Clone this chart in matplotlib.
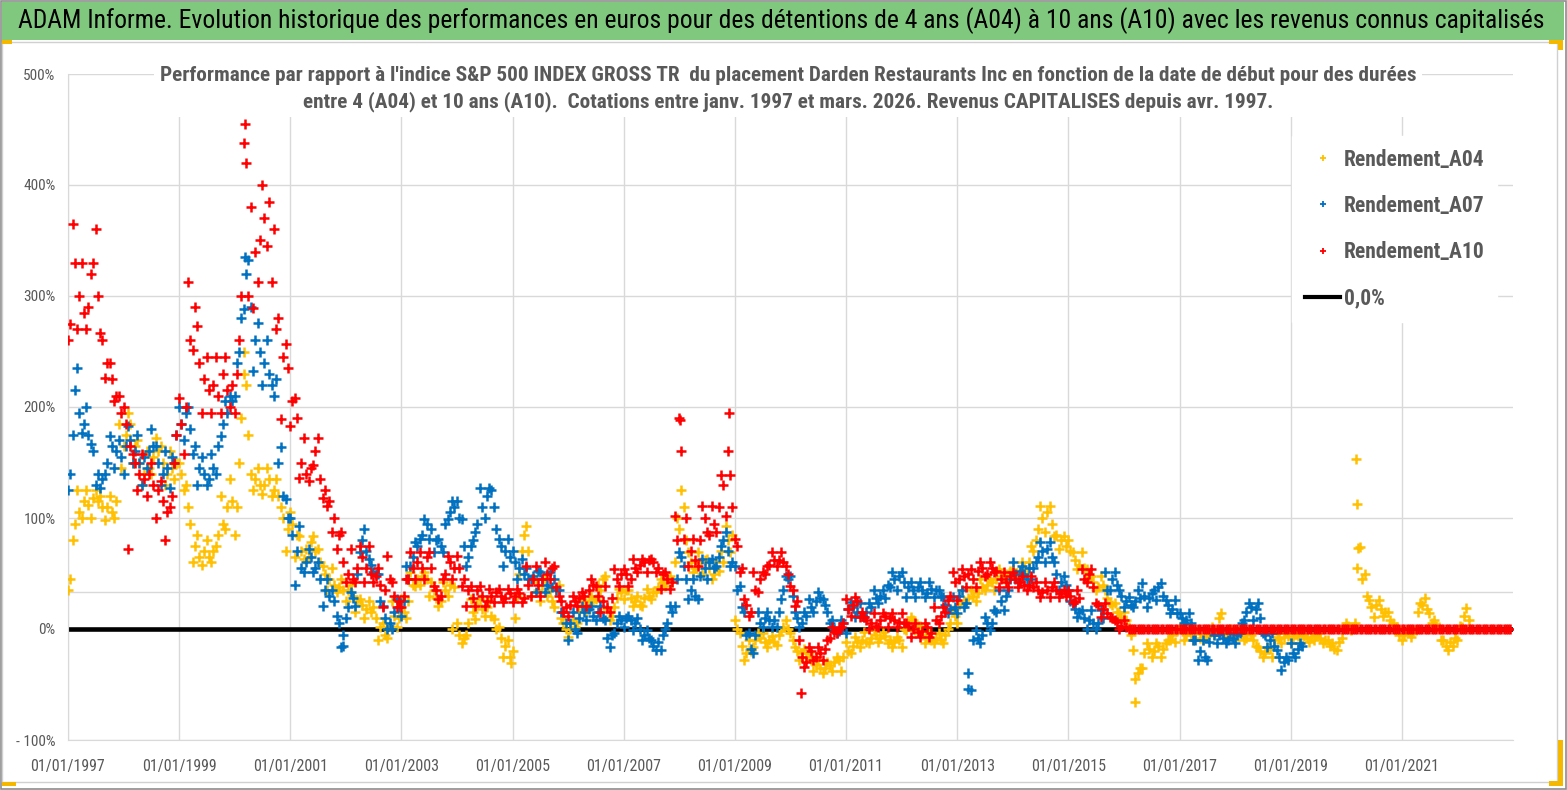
import numpy as np
import pandas as pd
import matplotlib
matplotlib.use("Agg")
import matplotlib.pyplot as plt
from matplotlib import font_manager as fm
from matplotlib.patches import Rectangle
from matplotlib.lines import Line2D

# ---------------- data (values in %) ----------------
# mid-month readings, one row per year starting 1997
A04_rows = [
    [45, 95, 105, 115, 112, 118, 115, 110, 110, 105, 115, 145],   # 1997
    [175, 185, 165, 150, 140, 145, 155, 160, 150, 140, 145, 150], # 1998
    [140, 130, 95, 75, 65, 70, 65, 70, 85, 95, 110, 115],         # 1999
    [110, 190, 220, 140, 135, 130, 130, 135, 125, 120, 100, 90],  # 2000
    [95, 85, 70, 72, 78, 70, 60, 50, 45, 40, 38, 35],             # 2001
    [35, 30, 25, 22, 18, 15, 10, 2, -5, 3, 12, 10],               # 2002
    [15, 25, 40, 45, 48, 45, 42, 28, 25, 35, 40, 38],             # 2003
    [-5, -8, 5, 15, 22, 18, 20, 12, 0, -8, -15, -25],             # 2004
    [10, 50, 85, 70, 45, 35, 40, 30, 25, 35, 10, 0],              # 2005
    [0, 2, 15, 22, 25, 25, 40, 45, 18, 12, 28, 33],               # 2006
    [35, 28, 25, 22, 28, 30, 33, 38, 42, 45, 42, 100],            # 2007
    [125, 80, 60, 55, 60, 62, 55, 50, 52, 60, 80, 85],            # 2008
    [0, -15, -22, -20, -10, -8, -12, -10, -12, -5, 2, 0],         # 2009
    [-10, -20, -22, -25, -28, -32, -35, -35, -32, -30, -28, -25], # 2010
    [-20, -15, -12, -10, -12, -8, -5, -8, -6, -10, -12, -10],     # 2011
    [0, 5, 8, 3, -5, -8, -10, -8, -10, -5, 5, 12],                # 2012
    [22, 25, 28, 30, 32, 38, 40, 42, 45, 48, 50, 52],             # 2013
    [50, 52, 55, 60, 70, 90, 100, 105, 95, 85, 80, 75],           # 2014
    [70, 62, 58, 55, 48, 42, 38, 40, 28, 22, 15, 10],             # 2015
    [8, -5, -45, -35, -22, -18, -20, -15, -18, -10, -5, -2],      # 2016
    [0, -5, -5, -3, -8, -5, -2, -5, 10, -3, -5, -2],              # 2017
    [-3, -5, -8, -5, -15, -20, -22, -18, -10, -8, -7, -6],        # 2018
    [-8, -6, -5, -8, -7, -5, -8, -10, -15, -18, -12, 2],          # 2019
    [3, 2, 55, 45, 30, 20, 22, 18, 15, 8, 0, -5],                 # 2020
    [-5, -3, -2, 15, 22, 18, 5, 3, -10, -15, -12, -8],            # 2021
    [3, 12, 8],                                                   # 2022
]
# start-of-month readings (other side of the scatter band)
A04_rows_b = [
    [35, 80, 125, 100, 125, 100, 125, 120, 98, 120, 100, 185],    # 1997
    [165, 195, 150, 170, 130, 160, 140, 172, 165, 130, 160, 135], # 1998
    [150, 125, 110, 60, 85, 58, 80, 60, 75, 120, 90, 135],        # 1999
    [85, 150, 250, 175, 125, 145, 122, 145, 120, 135, 110, 70],   # 2000
    [105, 65, 84, 63, 65, 84, 72, 57, 35, 55, 33, 45],            # 2001
    [25, 40, 15, 27, 10, 25, 20, -10, 5, -8, 25, 2],              # 2002
    [27, 10, 51, 39, 40, 51, 30, 35, 21, 42, 30, 0],              # 2003
    [5, -13, -5, 27, 9, 27, 12, 25, 9, 2, -25, -10],              # 2004
    [-20, 30, 70, 93, 30, 45, 25, 45, 35, 20, 40, 5],             # 2005
    [-7, 8, 5, 27, 15, 30, 27, 35, 48, 8, 20, 36],                # 2006
    [27, 35, 21, 30, 21, 36, 27, 33, 45, 39, 48, 60],             # 2007
    [90, 110, 69, 51, 69, 50, 63, 45, 60, 70, 93, 69],            # 2008
    [8, -4, -28, -10, -16, -4, -4, -16, -6, -14, -2, 8],          # 2009
    [-4, -16, -28, -18, -22, -38, -28, -40, -30, -38, -25, -38],  # 2010
    [-12, -22, -7, -16, -3, -13, -1, -12, -3, -13, -16, -7],      # 2011
    [-16, -1, 11, -1, 3, -13, -4, -13, -4, -13, 0, 17],           # 2012
    [5, 35, 23, 35, 25, 45, 35, 45, 35, 54, 45, 45],              # 2013
    [54, 45, 60, 50, 75, 80, 111, 87, 111, 84, 72, 84],           # 2014
    [80, 69, 54, 69, 54, 48, 35, 48, 35, 23, 23, 15],             # 2015
    [15, 2, -19, -40, -35, -13, -25, -13, -25, -13, -10, -12],    # 2016
    [2, -10, 0, -10, -1, -10, -6, 2, -2, 14, -8, 0],              # 2017
    [-10, -1, -10, -1, -10, -16, -25, -16, -25, -4, -13, -4],     # 2018
    [-13, -4, -13, -6, -12, -10, -4, -13, -10, -13, -19, -8],     # 2019
    [5, -1, 5, 74, 50, 26, 11, 26, 12, 15, 5, 2],                 # 2020
    [-10, -1, -7, -1, 23, 28, 14, 8, 2, -10, -19, -15],           # 2021
    [-10, 2, 19],                                                 # 2022
]
A07_rows = [
    [140, 215, 195, 185, 175, 160, 140, 135, 150, 165, 160, 155], # 1997
    [165, 170, 160, 150, 155, 160, 165, 150, 140, 145, 155, 175], # 1998
    [185, 195, 180, 165, 145, 140, 135, 145, 165, 185, 195, 205], # 1999
    [240, 280, 320, 290, 260, 250, 240, 230, 210, 150, 120, 100], # 2000
    [85, 70, 55, 60, 65, 55, 45, 35, 30, 25, 5, -5],              # 2001
    [20, 28, 50, 80, 70, 58, 50, 25, 10, 5, 15, 20],              # 2002
    [25, 45, 65, 75, 85, 95, 90, 80, 75, 95, 105, 110],           # 2003
    [100, 75, 65, 80, 95, 110, 120, 125, 90, 75, 70, 65],         # 2004
    [60, 55, 50, 45, 48, 52, 45, 40, 38, 35, 15, 5],              # 2005
    [5, 0, 10, 15, 18, 12, 15, 10, -8, -5, 5, 8],                 # 2006
    [10, 8, 5, 0, -5, -8, -15, -12, -5, 5, 15, 45],               # 2007
    [65, 45, 35, 30, 48, 55, 60, 55, 65, 80, 70, 60],             # 2008
    [35, 20, -5, -18, -5, 5, 10, 8, 8, 15, 35, 45],               # 2009
    [30, 10, 5, 12, 20, 25, 28, 22, 5, 0, -2, 5],                 # 2010
    [18, 20, 15, 12, 15, 20, 28, 30, 28, 38, 45, 48],             # 2011
    [42, 38, 35, 38, 35, 32, 36, 35, 30, 22, 18, 20],             # 2012
    [30, 20, -40, -10, -8, -5, 5, 5, 15, 25, 30, 45],             # 2013
    [50, 52, 50, 55, 55, 65, 70, 72, 65, 50, 42, 40],             # 2014
    [25, 18, 15, 10, 8, 5, 5, 10, 35, 45, 40, 30],                # 2015
    [25, 22, 25, 28, 30, 28, 35, 38, 30, 22, 18, 14],             # 2016
    [10, 8, 5, -10, -20, -25, -12, -5, -5, -8, -10, -8],          # 2017
    [-5, 5, 15, 20, 18, 10, -5, -10, -15, -25, -30, -28],         # 2018
    [-22, -18, -15],                                              # 2019
]
A07_rows_b = [
    [125, 175, 235, 177, 200, 167, 130, 127, 140, 174, 145, 170], # 1997
    [140, 183, 150, 175, 130, 145, 180, 165, 130, 160, 127, 150], # 1998
    [200, 170, 200, 158, 130, 155, 130, 158, 140, 174, 205, 210], # 1999
    [210, 250, 288, 332, 232, 276, 220, 260, 220, 225, 164, 117], # 2000
    [100, 40, 93, 51, 72, 51, 60, 21, 45, 35, 12, -16],           # 2001
    [10, 33, 21, 69, 90, 63, 51, 50, 21, 0, 0, 27],               # 2002
    [12, 57, 57, 78, 81, 99, 81, 69, 81, 69, 99, 115],            # 2003
    [115, 99, 57, 75, 87, 127, 100, 127, 110, 81, 57, 81],        # 2004
    [70, 45, 63, 55, 45, 33, 51, 33, 51, 45, 35, 15],             # 2005
    [-10, 15, -4, 21, 8, 21, 8, 21, 8, -16, -4, 12],              # 2006
    [2, 12, -1, 10, -10, -1, -10, -19, -19, 0, 21, 21],           # 2007
    [69, 57, 27, 45, 27, 63, 45, 63, 57, 75, 87, 57],             # 2008
    [57, 39, 15, -4, -22, 15, 2, 15, 2, 2, 27, 48],               # 2009
    [48, 15, 2, 15, 27, 15, 33, 27, 15, 8, -4, 8],                # 2010
    [-4, 24, 11, 23, 11, 23, 35, 23, 35, 40, 51, 35],             # 2011
    [51, 29, 42, 29, 42, 29, 42, 29, 35, 29, 14, 29],             # 2012
    [14, 35, 23, -55, -1, -13, 11, -1, 17, 35, 17, 35],           # 2013
    [60, 42, 57, 45, 45, 60, 78, 60, 78, 60, 35, 48],             # 2014
    [35, 23, 11, 17, 0, 17, 0, 17, 51, 35, 51, 35],               # 2015
    [20, 29, 20, 35, 41, 20, 32, 26, 41, 26, 14, 26],             # 2016
    [14, 5, 14, -10, -28, -10, -28, -1, -13, -1, -13, -4],        # 2017
    [-13, -4, 8, 23, 8, 23, -4, -16, -4, -19, -37, -25],          # 2018
    [-13, -25, -13],                                              # 2019
]
A10_rows = [
    [275, 330, 300, 285, 290, 330, 300, 260, 240, 225, 210, 195], # 1997
    [185, 165, 150, 140, 135, 140, 130, 125, 115, 105, 120, 175], # 1998
    [185, 200, 260, 290, 240, 225, 215, 220, 210, 230, 215, 220], # 1999
    [230, 300, 420, 380, 340, 350, 370, 385, 360, 280, 245, 235], # 2000
    [205, 190, 150, 140, 145, 160, 135, 125, 115, 100, 85, 60],   # 2001
    [50, 45, 55, 65, 55, 50, 48, 40, 35, 45, 30, 25],             # 2002
    [30, 45, 55, 60, 55, 65, 55, 35, 30, 50, 60, 55],             # 2003
    [55, 45, 35, 28, 35, 30, 25, 30, 33, 30, 28, 32],             # 2004
    [30, 32, 28, 40, 45, 40, 45, 50, 55, 38, 25, 20],             # 2005
    [22, 25, 28, 30, 35, 40, 30, 25, 20, 28, 45, 50],             # 2006
    [50, 45, 55, 58, 60, 62, 60, 55, 50, 45, 42, 80],             # 2007
    [160, 100, 70, 62, 80, 100, 85, 95, 110, 130, 160, 110],      # 2008
    [75, 55, 22, 15, 35, 45, 50, 58, 62, 62, 60, 50],             # 2009
    [35, 25, -25, -30, -20, -25, -22, -18, -8, -3, 0, 5],         # 2010
    [18, 22, 25, 15, 8, 5, 3, 8, 12, 10, 8, 6],                   # 2011
    [5, 3, 0, -3, -2, 2, -4, 8, 12, 15, 30, 42],                  # 2012
    [45, 48, 50, 45, 52, 55, 50, 55, 52, 45, 42, 48],             # 2013
    [45, 42, 40, 40, 38, 35, 33, 35, 38, 35, 32, 30],             # 2014
    [30, 25, 28, 45, 50, 38, 22, 18, 14, 10, 6, 3],               # 2015
    [2, 0, 0, 0, 0, 0, 0, 0, 0, 0, 0, 0],                         # 2016
    [0, 0, 0, 0, 0, 0, 0, 0, 0, 0, 0, 0],                         # 2017
    [0, 0, 0, 0, 0, 0, 0, 0, 0, 0, 0, 0],                         # 2018
    [0, 0, 0, 0, 0, 0, 0, 0, 0, 0, 0, 0],                         # 2019
    [0, 0, 0, 0, 0, 0, 0, 0, 0, 0, 0, 0],                         # 2020
    [0, 0, 0, 0, 0, 0, 0, 0, 0, 0, 0, 0],                         # 2021
    [0, 0, 0, 0, 0, 0, 0, 0, 0, 0, 0, 0],                         # 2022
]
A10_rows_b = [
    [260, 365, 270, 330, 270, 320, 360, 267, 226, 240, 205, 210], # 1997
    [200, 72, 158, 125, 158, 120, 150, 100, 133, 80, 110, 150],   # 1998
    [208, 158, 313, 251, 273, 195, 245, 195, 245, 195, 245, 200], # 1999
    [195, 260, 438, 300, 289, 313, 400, 345, 313, 270, 189, 257], # 2000
    [183, 208, 136, 172, 133, 148, 172, 118, 111, 87, 72, 87],    # 2001
    [42, 72, 42, 75, 42, 75, 42, 55, 20, 66, 42, 20],             # 2002
    [20, 45, 69, 45, 69, 45, 69, 39, 27, 45, 66, 45],             # 2003
    [66, 39, 21, 39, 21, 39, 21, 36, 24, 36, 24, 36],             # 2004
    [24, 36, 24, 57, 30, 57, 30, 60, 45, 57, 30, 15],             # 2005
    [12, 30, 21, 33, 21, 45, 39, 15, 39, 15, 54, 39],             # 2006
    [54, 39, 63, 51, 63, 51, 63, 51, 36, 51, 36, 102],            # 2007
    [190, 81, 57, 81, 57, 111, 87, 111, 87, 139, 102, 139],       # 2008
    [81, 51, 27, 12, 51, 33, 51, 57, 69, 57, 69, 57],             # 2009
    [39, 21, -10, -34, -16, -28, -16, -28, -10, 2, -4, 2],        # 2010
    [27, 12, 29, 11, 11, 0, 14, 2, 14, 2, 14, 2],                 # 2011
    [14, 5, -7, 5, -7, 5, -7, 20, 5, 20, 26, 51],                 # 2012
    [26, 54, 38, 54, 38, 60, 48, 60, 51, 38, 51, 38],             # 2013
    [51, 38, 48, 35, 48, 42, 29, 42, 29, 42, 29, 35],             # 2014
    [35, 23, 35, 54, 42, 54, 23, 11, 23, 11, 8, 0],               # 2015
    [8, 0, 0, 0, 0, 0, 0, 0, 0, 0, 0, 0],                         # 2016
    [0, 0, 0, 0, 0, 0, 0, 0, 0, 0, 0, 0],                         # 2017
    [0, 0, 0, 0, 0, 0, 0, 0, 0, 0, 0, 0],                         # 2018
    [0, 0, 0, 0, 0, 0, 0, 0, 0, 0, 0, 0],                         # 2019
    [0, 0, 0, 0, 0, 0, 0, 0, 0, 0, 0, 0],                         # 2020
    [0, 0, 0, 0, 0, 0, 0, 0, 0, 0, 0, 0],                         # 2021
    [0, 0, 0, 0, 0, 0, 0, 0, 0, 0, 0, 0],                         # 2022
]
# isolated points (spikes)
A04_extra_dates = ["2000-03-05", "2004-12-20", "2016-03-15", "2020-03-06", "2020-03-12", "2020-03-18"]
A04_extra_vals = [230, -31, -66, 153, 113, 73]
A07_extra_dates = ["2000-03-08", "2001-12-10", "2013-03-12"]
A07_extra_vals = [335, -15, -54]
A10_extra_dates = ["2000-03-08", "2008-01-08", "2008-11-25", "2010-03-10"]
A10_extra_vals = [455, 188, 195, -58]

series_labels = ["Rendement_A04", "Rendement_A07", "Rendement_A10"]
zero_label = "0,0%"
y_ticks = [-100, 0, 100, 200, 300, 400, 500]
y_tick_labels = ["- 100%", "0%", "100%", "200%", "300%", "400%", "500%"]
x_tick_years = list(range(1997, 2022, 2))

title = ("ADAM Informe. Evolution historique des performances en euros pour des détentions "
         "de 4 ans (A04) à 10 ans (A10) avec les revenus connus capitalisés")
subtitle = ("Performance par rapport à l'indice S&P 500 INDEX GROSS TR  du placement Darden Restaurants Inc "
            "en fonction de la date de début pour des durées\n"
            "entre 4 (A04) et 10 ans (A10).  Cotations entre janv. 1997 et mars. 2026. "
            "Revenus CAPITALISES depuis avr. 1997.")

# ---------------- styling ----------------
C04, C07, C10 = "#FFC000", "#0070C0", "#FF0000"
GRID = "#D9D9D9"
TXT = "#595959"

names = {f.name for f in fm.fontManager.ttflist}
COND = "DejaVu Sans"
for cand in ["Liberation Sans Narrow", "Roboto Condensed", "Open Sans Condensed", "Liberation Sans", "Noto Sans"]:
    if cand in names:
        COND = cand
        break

W, H = 1567, 790
fig = plt.figure(figsize=(W / 100, H / 100), dpi=100)
fig.patch.set_facecolor("white")


def px_rect(x0, y0, x1, y1, **kw):
    """rectangle given in pixel coords from top-left"""
    r = Rectangle((x0 / W, 1 - y1 / H), (x1 - x0) / W, (y1 - y0) / H,
                  transform=fig.transFigure, **kw)
    fig.patches.append(r)
    return r


# frame decorations
px_rect(0.5, 0.5, W - 1.5, H - 1.5, fill=False, edgecolor="#8C8C8C", lw=1.2, zorder=-5)
px_rect(2, 42, 1557, 782, fill=False, edgecolor="#D0D0D0", lw=1.0, zorder=-5)
px_rect(2, 2, 1564, 40, facecolor="#80C87E", edgecolor="none", zorder=-4)
for (a, b, c, d) in [(2, 40, 12, 44), (2, 782, 16, 786), (1549, 40, 1563, 44), (1558, 40, 1563, 50),
                     (1558, 740, 1563, 786), (1549, 781, 1563, 786)]:
    px_rect(a, b, c, d, facecolor="#F5B800", edgecolor="none", zorder=-3)

ax = fig.add_axes([68 / W, 1 - 740 / H, (1513 - 68) / W, (740 - 74) / H])
ax.set_facecolor("white")


def monthly(rows, day_offset):
    vals = [v for r in rows for v in r]
    d = pd.date_range("1997-01-01", periods=len(vals), freq="MS") + pd.Timedelta(days=day_offset)
    return d, np.array(vals, dtype=float)


ax.axhline(0, color="black", lw=3.3, zorder=2)
ax.axhline(33, color=GRID, lw=1.0, zorder=0.5)

MS, MEW = 7, 1.8
for rows, rows_b, xd, xv, col in [(A04_rows, A04_rows_b, A04_extra_dates, A04_extra_vals, C04),
                                  (A07_rows, A07_rows_b, A07_extra_dates, A07_extra_vals, C07),
                                  (A10_rows, A10_rows_b, A10_extra_dates, A10_extra_vals, C10)]:
    d, v = monthly(rows, 14)
    db, vb = monthly(rows_b, 0)
    ax.plot(db, vb, ls="none", marker="+", ms=MS, mew=MEW, color=col, zorder=3)
    ax.plot(d, v, ls="none", marker="+", ms=MS, mew=MEW, color=col, zorder=3)
    ax.plot(pd.to_datetime(xd), xv, ls="none", marker="+", ms=MS, mew=MEW, color=col, zorder=3)

ax.set_xlim(pd.Timestamp("1997-01-01"), pd.Timestamp("2023-01-01"))
ax.set_ylim(-100, 500)
ax.set_yticks(y_ticks)
ax.set_yticklabels(y_tick_labels)
xt = [pd.Timestamp(f"{y}-01-01") for y in x_tick_years]
ax.set_xticks(xt)
ax.set_xticklabels([t.strftime("%d/%m/%Y") for t in xt])
ax.set_axisbelow(True)
ax.grid(True, color=GRID, lw=1.0)
for s in ["top", "right"]:
    ax.spines[s].set_visible(False)
for s in ["left", "bottom"]:
    ax.spines[s].set_color(GRID)
ax.tick_params(length=0, colors=TXT)
ax.tick_params(axis="x", labelsize=11.5, pad=14)
ax.tick_params(axis="y", labelsize=11, pad=9)
for lab in ax.get_xticklabels() + ax.get_yticklabels():
    lab.set_fontfamily(COND)

# legend
handles = [Line2D([], [], ls="none", marker="+", ms=5, mew=1.3, color=c) for c in (C04, C07, C10)]
handles.append(Line2D([], [], color="black", lw=3))
leg = ax.legend(handles, series_labels + [zero_label], loc="upper left",
                bbox_to_anchor=((1292 - 68) / 1445, (740 - 136) / 666),
                borderaxespad=0, frameon=True, fancybox=False, framealpha=1,
                facecolor="white", edgecolor="white", handlelength=1.65, handletextpad=0.15,
                labelspacing=1.12, borderpad=0.6,
                prop={"family": COND, "size": 15.5, "weight": "bold"})
for t in leg.get_texts():
    t.set_color(TXT)
leg.set_zorder(5)

# titles
t1 = fig.text(18 / W, 1 - 21 / H, title, ha="left", va="center", fontsize=18,
              family=COND, color="black")
t2 = fig.text(788 / W, 1 - 89 / H, subtitle, ha="center", va="center", fontsize=15,
              family=COND, color=TXT, weight="bold", linespacing=1.2,
              bbox=dict(facecolor="white", edgecolor="none", pad=4), zorder=4)

renderer = fig.canvas.get_renderer()


def fit(txt, target):
    w = txt.get_window_extent(renderer=renderer).width
    txt.set_fontsize(txt.get_fontsize() * target / w)


fit(t1, 1527)
fit(t2, 1255)
fs_px = t2.get_fontsize() * 100 / 72
t2.set_linespacing(29 / (fs_px * 1.01))

fig.savefig("out.png", dpi=100, facecolor="white")
